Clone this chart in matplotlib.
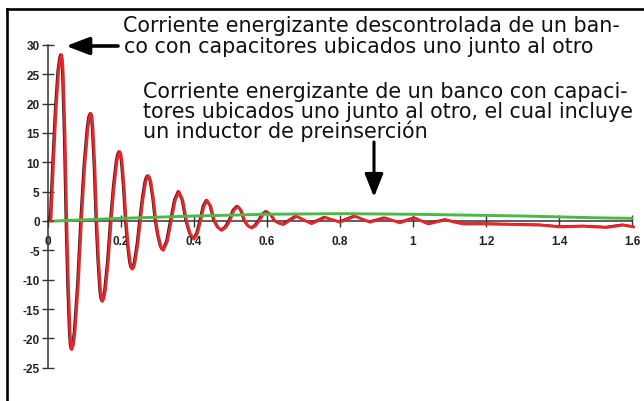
import matplotlib
matplotlib.use("Agg")
import matplotlib.pyplot as plt
from matplotlib.lines import Line2D
from matplotlib.transforms import offset_copy

# ---- data ----
red_t = [0.008, 0.015, 0.022, 0.029, 0.034, 0.0375,
         0.0398, 0.042, 0.0467, 0.0513, 0.0558, 0.0604, 0.0627, 0.065,
         0.0694, 0.0738, 0.0827, 0.0915, 0.1003, 0.1092, 0.1136, 0.118,
         0.1206, 0.1232, 0.1283, 0.1335, 0.1387, 0.1438, 0.1464, 0.149,
         0.153, 0.157, 0.165, 0.173, 0.181, 0.189, 0.193, 0.197,
         0.1998, 0.2027, 0.2083, 0.214, 0.2197, 0.2253, 0.2282, 0.231,
         0.2347, 0.2383, 0.2457, 0.253, 0.2603, 0.2677, 0.2713, 0.275,
         0.2784, 0.2818, 0.2887, 0.2955, 0.3023, 0.3092, 0.3126, 0.316,
         0.3268, 0.3375, 0.3483, 0.359,
         0.3693, 0.3795, 0.3898, 0.400,
         0.409, 0.418, 0.427, 0.436,
         0.446, 0.456, 0.466, 0.476,
         0.487, 0.498, 0.509, 0.520,
         0.5295, 0.539, 0.5485, 0.558,
         0.568, 0.5785, 0.589, 0.599,
         0.6105, 0.622, 0.6335, 0.645,
         0.663, 0.681, 0.7015, 0.722, 0.7405, 0.759, 0.7795, 0.800,
         0.8205, 0.841, 0.8615, 0.882, 0.9025, 0.923, 0.9435, 0.964,
         0.9845, 1.005, 1.0235, 1.042, 1.066, 1.09, 1.114, 1.138,
         1.193, 1.275, 1.348, 1.403, 1.467, 1.53, 1.576, 1.604]
red_v = [0.0, 10.0, 19.0, 25.5, 27.8, 28.3,
         27.3, 24.5, 14.2, 0.0, -11.0, -19.0, -21.15, -21.9,
         -21.15, -19.0, -11.0, 0.0, 9.2, 15.8, 17.7, 18.3,
         17.7, 15.8, 9.2, 0.0, -6.9, -11.9, -13.2, -13.7,
         -13.2, -11.9, -6.9, 0.0, 5.9, 10.2, 11.4, 11.8,
         11.4, 10.2, 5.9, 0.0, -4.1, -7.1, -7.9, -8.2,
         -7.9, -7.1, -4.1, 0.0, 3.85, 6.7, 7.4, 7.7,
         7.4, 6.7, 3.85, 0.0, -2.5, -4.3, -4.8, -5.0,
         -3.5, 0.0, 3.5, 5.0,
         3.5, 0.0, -2.2, -3.1,
         -2.2, 0.0, 2.5, 3.5,
         2.5, 0.0, -1.1, -1.6,
         -1.1, 0.0, 1.8, 2.5,
         1.8, 0.0, -0.85, -1.2,
         -0.85, 0.0, 1.1, 1.6,
         1.1, 0.0, -0.4, -0.6,
         0.1, 0.8, 0.15, -0.45, 0.05, 0.6, 0.2, -0.2,
         0.3, 0.8, 0.3, -0.2, 0.15, 0.5, 0.1, -0.3,
         0.1, 0.5, 0.0, -0.5, -0.15, 0.2, -0.2, -0.5,
         -0.5, -0.6, -0.7, -1.0, -0.9, -1.1, -0.7, -1.0]

green_t = [0.02, 0.1, 0.2, 0.3, 0.4, 0.5, 0.6, 0.7, 0.8, 0.9,
           1.0, 1.1, 1.2, 1.3, 1.4, 1.5, 1.6]
green_v = [0.0, 0.2, 0.45, 0.65, 0.85, 1.0, 1.15, 1.2, 1.25, 1.2,
           1.15, 1.05, 0.95, 0.85, 0.7, 0.55, 0.45]

x_ticks = [0, 0.2, 0.4, 0.6, 0.8, 1.0, 1.2, 1.4, 1.6]
x_labels = ["0", "0.2", "0.4", "0.6", "0.8", "1", "1.2", "1.4", "1.6"]
y_ticks = [-25, -20, -15, -10, -5, 0, 5, 10, 15, 20, 25, 30]
y_labels = ["-25", "-20", "-15", "-10", "-5", "0", "5", "10", "15", "20", "25", "30"]

label1 = ["Corriente energizante descontrolada de un ban-",
          "co con capacitores ubicados uno junto al otro"]
label2 = ["Corriente energizante de un banco con capaci-",
          "tores ubicados uno junto al otro, el cual incluye",
          "un inductor de preinserción"]

W, H = 644, 402
fig = plt.figure(figsize=(W / 100, H / 100), dpi=100)
ax = fig.add_axes([0, 0, 1, 1])
ax.set_facecolor("white")

# pixel mapping: x=0 at px 48, 365 px/unit; y=0 at px 222, 5.87 px/unit
x0, sx = 48.0, 365.0
y0, sy = 222.0, 5.87
ax.set_xlim((0 - x0) / sx, (W - x0) / sx)
ax.set_ylim((y0 - H) / sy, y0 / sy)

for s in ["top", "right"]:
    ax.spines[s].set_visible(False)
ax.spines["left"].set_position(("data", 0))
ax.spines["bottom"].set_position(("data", 0))
ax.spines["left"].set_bounds(-25, 30)
ax.spines["bottom"].set_bounds(0, 1.6)
for s in ["left", "bottom"]:
    ax.spines[s].set_color("#333333")
    ax.spines[s].set_linewidth(1.1)

ax.set_xticks(x_ticks)
ax.set_xticklabels(x_labels)
ax.set_yticks(y_ticks)
ax.set_yticklabels(y_labels)
ax.tick_params(axis="both", direction="inout", length=8, width=1.0, color="#333333")
ax.tick_params(axis="x", pad=6)
ax.tick_params(axis="y", pad=2)
for lab in ax.get_xticklabels() + ax.get_yticklabels():
    lab.set_fontfamily("Liberation Sans")
    lab.set_fontweight("bold")
    lab.set_fontsize(8.5)
    lab.set_color("#222222")

# curves
shift = offset_copy(ax.transData, fig=fig, x=-1.2, y=0.6, units="dots")
ax.plot(red_t, red_v, color="#222222", lw=1.4, transform=shift, zorder=3,
        solid_joinstyle="round")
ax.plot(red_t, red_v, color="#e8262a", lw=2.1, zorder=4, solid_joinstyle="round")
ax.plot(green_t, green_v, color="#4cb848", lw=2.1, zorder=5)

# arrows
def px(xp, yp):
    return ((xp - x0) / sx, (y0 - yp) / sy)

ax.annotate("", xy=px(66, 47), xytext=px(118, 47),
            arrowprops=dict(arrowstyle="-|>,head_length=1.0,head_width=0.38",
                            mutation_scale=14, lw=2.6, color="black",
                            shrinkA=0, shrinkB=0), zorder=6)
ax.annotate("", xy=px(374, 198), xytext=px(374, 143),
            arrowprops=dict(arrowstyle="-|>,head_length=1.0,head_width=0.4",
                            mutation_scale=14, lw=2.2, color="black",
                            shrinkA=0, shrinkB=0), zorder=6)

# texts
fs = 14.9
def put(text, xp, yp):
    fig.text(xp / W, 1 - yp / H, text, fontsize=fs, family="DejaVu Sans",
             va="baseline", ha="left", color="#111111")

put(label1[0], 123, 32)
put(label1[1], 124, 53)
put(label2[0], 143, 98)
put(label2[1], 143, 118)
put(label2[2], 143, 138)

# frame (top and left)
fig.add_artist(Line2D([7 / W, 1.0], [1 - 9.5 / H, 1 - 9.5 / H], color="black",
                      lw=1.9, transform=fig.transFigure))
fig.add_artist(Line2D([7 / W, 7 / W], [1 - 9.5 / H, 0.0], color="black",
                      lw=1.9, transform=fig.transFigure))

fig.savefig("out.png", dpi=100, facecolor="white")
